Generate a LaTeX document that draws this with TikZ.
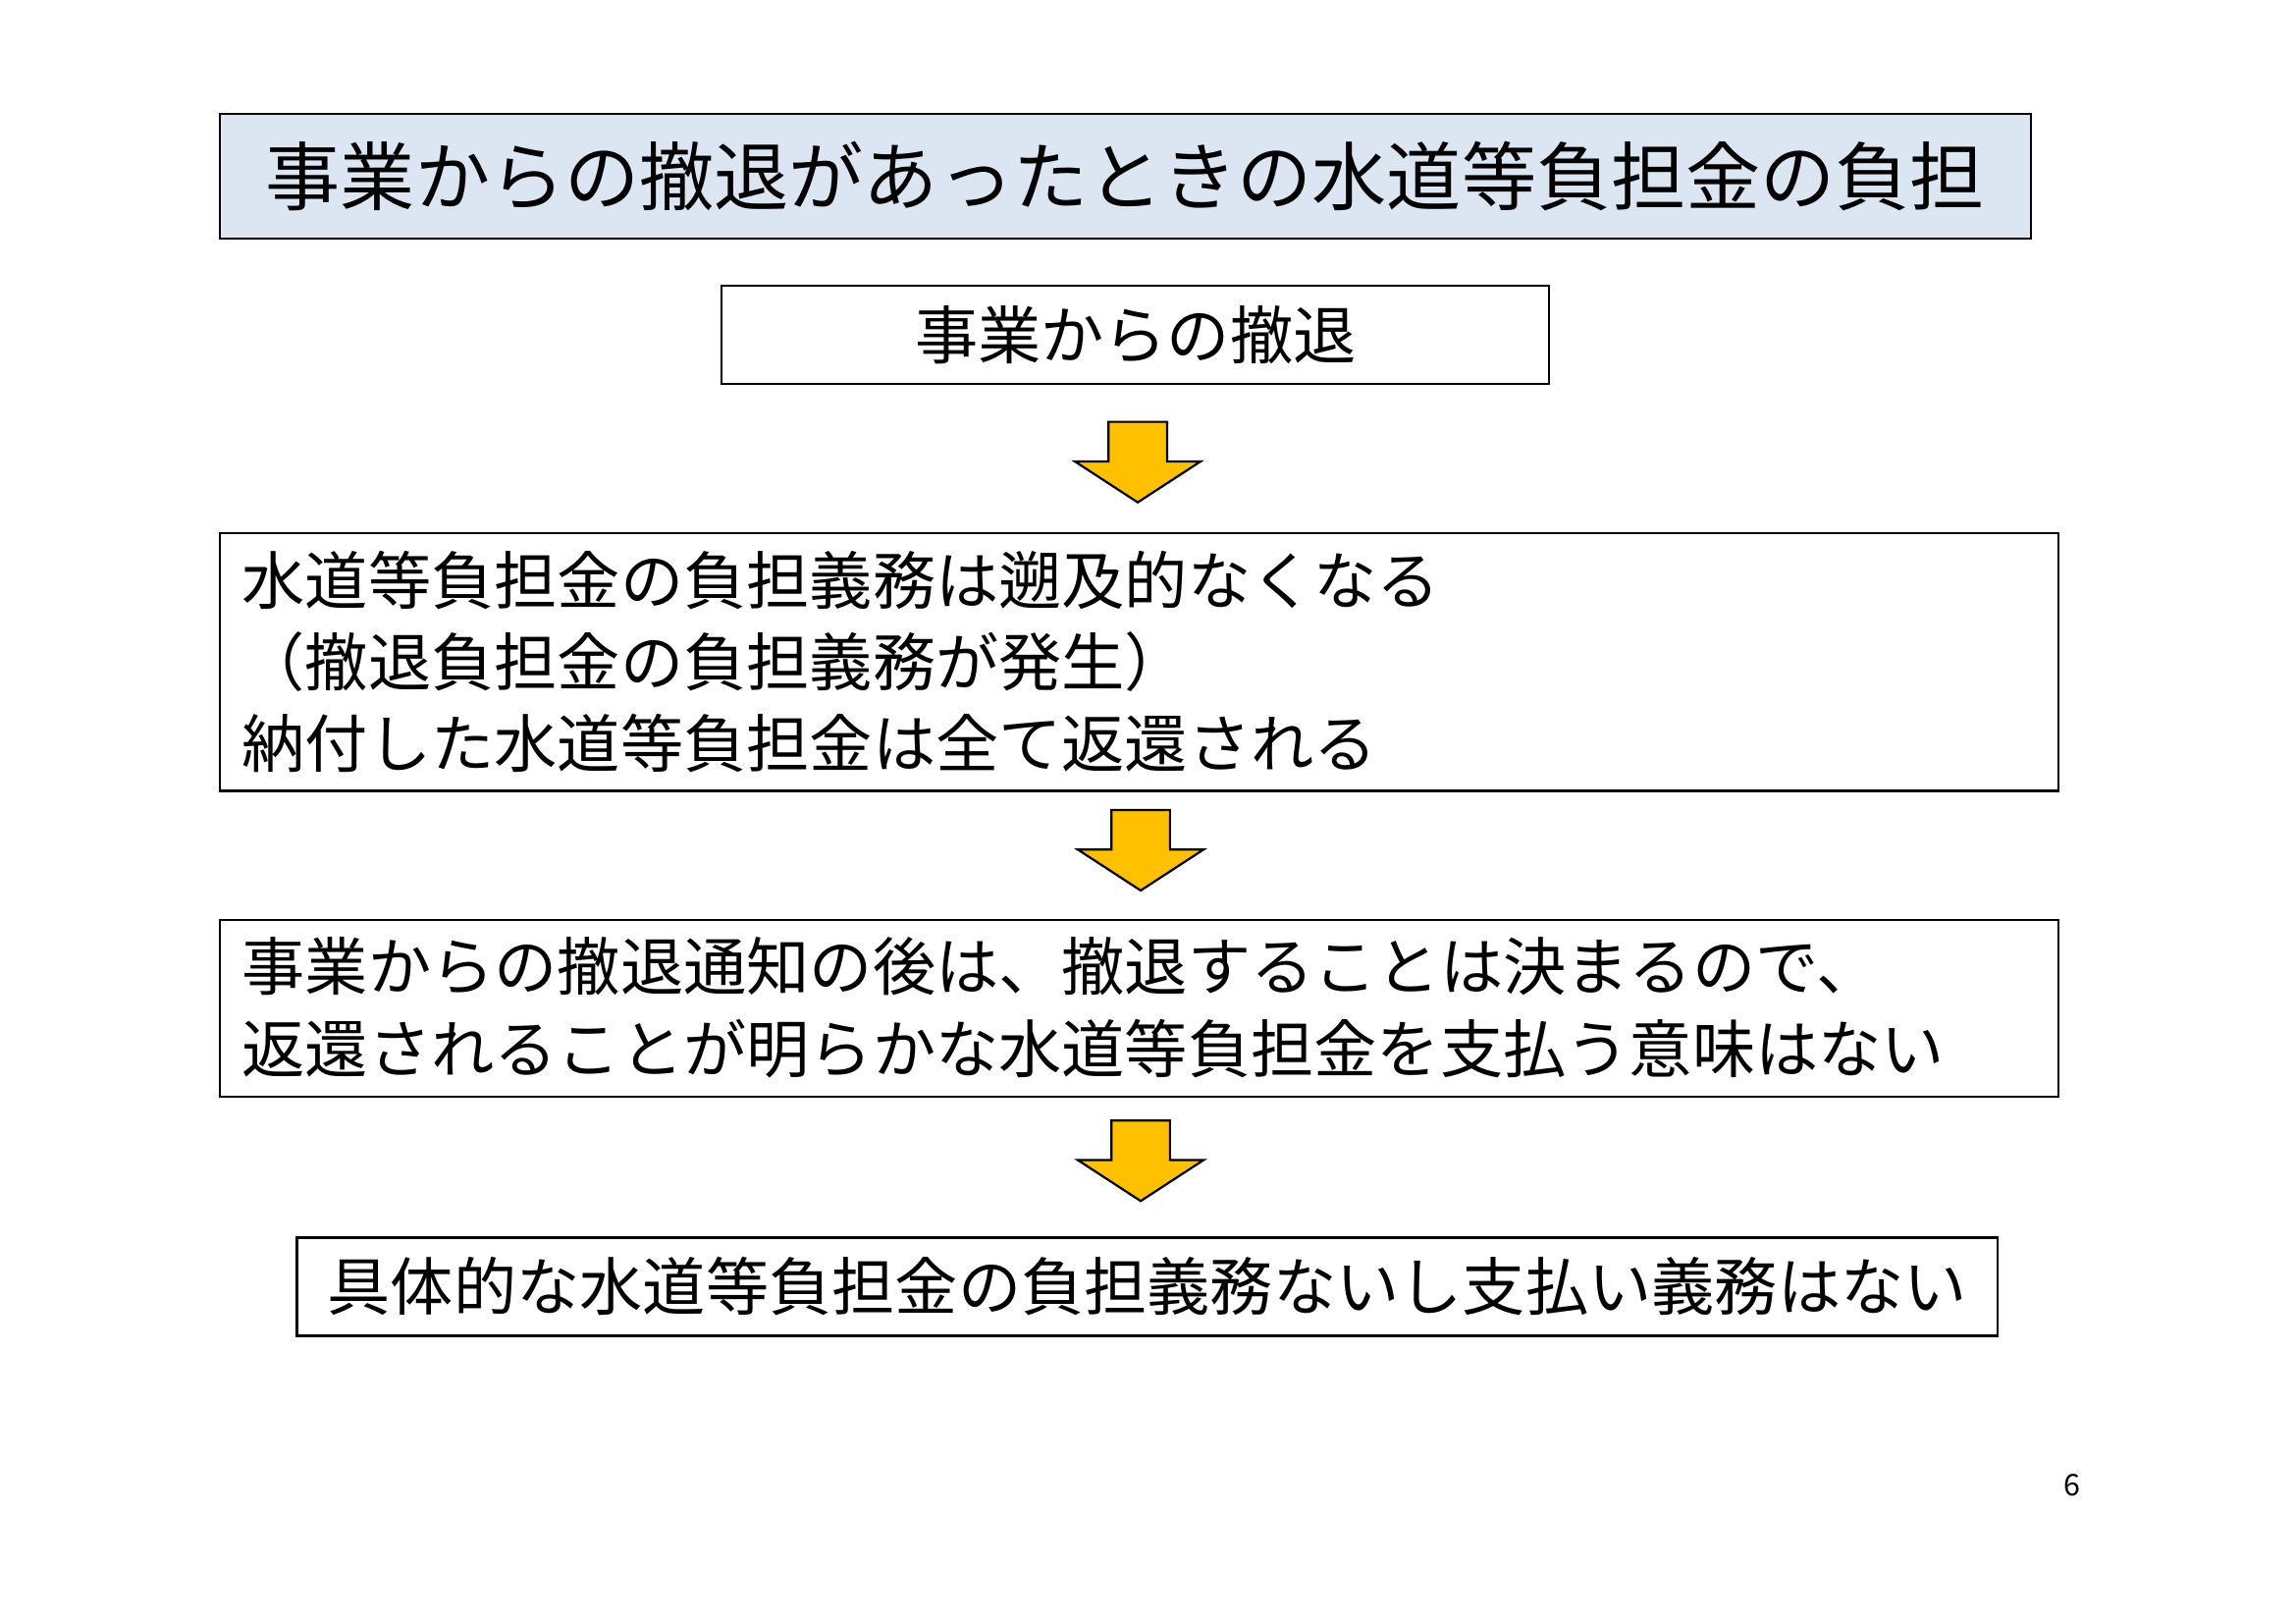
\documentclass[tikz,border=0pt]{standalone}
\usepackage{fontspec}
\setmainfont{Noto Sans CJK JP}
\usetikzlibrary{positioning}
\definecolor{titlefill}{HTML}{DCE6F2}
\definecolor{arrowfill}{HTML}{FFC000}
\tikzset{
	box/.style={draw, thick, minimum height=1.27cm, inner sep=0pt},
	boxtext/.style={font=\fontsize{23.2}{30}\selectfont, align=left, inner sep=0pt},
	downarrow/.style={draw, thick, fill=arrowfill, line join=miter},
}
\newcommand{\downarr}[2]{% centre x, top y (px)
	\draw[downarrow] (#1-20,#2) -- (#1+20,#2) -- (#1+20,#2+27) -- (#1+43,#2+27)
	-- (#1,#2+55) -- (#1-43,#2+27) -- (#1-20,#2+27) -- cycle;}

\begin{document}
\begin{tikzpicture}[x=0.018941cm, y=-0.018941cm]
	\useasboundingbox (0,0) rectangle (1568,1108);
	% title
	\draw[thick, fill=titlefill] (150,78) rectangle (1387,163);
	\node[inner sep=0pt] (title) at (768.5,120.5)
		{\fontsize{27.5}{33}\selectfont 事業からの撤退があったときの水道等負担金の負担};
	% steps
	\node[box, minimum width=10.70cm] (withdraw) at (775.5,228.5)
		{\fontsize{23.2}{30}\selectfont 事業からの撤退};
	\downarr{777}{288}
	\draw[thick] (150,364) rectangle (1406,540);
	\node[boxtext, anchor=west] (refund) at (165,452)
		{水道等負担金の負担義務は遡及的なくなる\\（撤退負担金の負担義務が発生）\\納付した水道等負担金は全て返還される};
	\downarr{779}{553}
	\draw[thick] (150,628) rectangle (1406,749);
	\node[boxtext, anchor=west] (notice) at (165,688)
		{事業からの撤退通知の後は、撤退することは決まるので、\\返還されることが明らかな水道等負担金を支払う意味はない};
	\downarr{779}{765}
	\node[box, minimum width=21.99cm] (result) at (783.5,878.5)
		{\fontsize{23.2}{30}\selectfont 具体的な水道等負担金の負担義務ないし支払い義務はない};
	% page number
	\node[font=\fontsize{11}{13}\selectfont] (page) at (1415,1014) {6};
\end{tikzpicture}
\end{document}
